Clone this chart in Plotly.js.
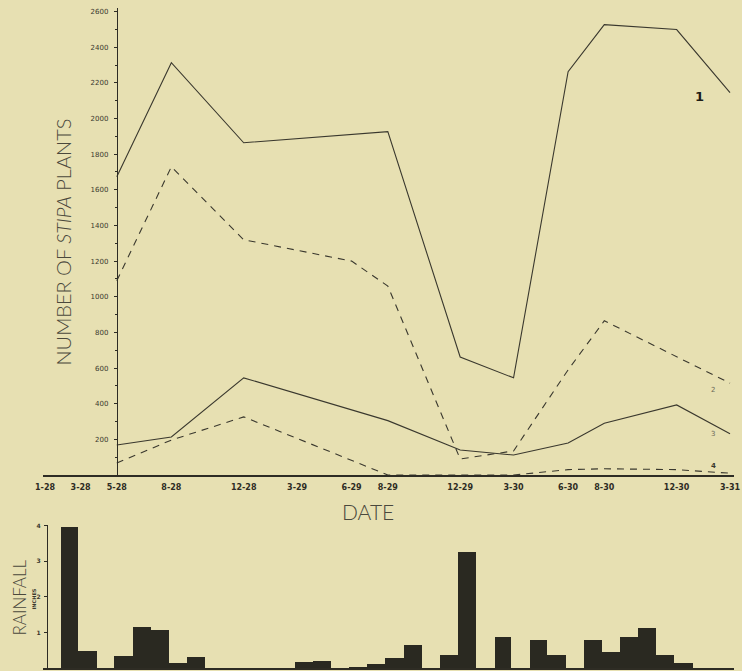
<!DOCTYPE html>
<html>
<head>
<meta charset="utf-8">
<script src="https://cdn.plot.ly/plotly-3.0.1.min.js"></script>
<style>
  html, body { margin: 0; padding: 0; background: #e7e0b2; }
  #chart { width: 742px; height: 671px; }
</style>
</head>
<body>
<div id="chart"></div>
<script>
// ---- Data ----
const sampleDates = ['1928-05-01','1928-08-01','1928-12-01','1929-06-01','1929-08-01','1929-12-01','1930-03-01','1930-06-01','1930-08-01','1930-12-01','1931-03-01'];
const plants1 = [1673, 2313, 1864, null, 1926, 662, 545, 2263, 2527, 2499, 2145];
const plants2 = [1090, 1729, 1320, 1200, 1060, 90, 135, 590, 865, 665, 515];
const plants3 = [168, 213, 545, null, 305, 140, 112, 180, 290, 393, 232];
const plants4 = [67, 196, 326, null, 0, 0, 0, 30, 35, 30, 10];

const tickDates = ['1928-01-01','1928-03-01','1928-05-01','1928-08-01','1928-12-01','1929-03-01','1929-06-01','1929-08-01','1929-12-01','1930-03-01','1930-06-01','1930-08-01','1930-12-01','1931-03-01'];
const tickLabels = ['1-28','3-28','5-28','8-28','12-28','3-29','6-29','8-29','12-29','3-30','6-30','8-30','12-30','3-31'];

const plantTicks = [200,400,600,800,1000,1200,1400,1600,1800,2000,2200,2400,2600];

const rainMonths = ['1928-01','1928-02','1928-03','1928-04','1928-05','1928-06','1928-07','1928-08','1928-09','1928-10','1928-11','1928-12',
                    '1929-01','1929-02','1929-03','1929-04','1929-05','1929-06','1929-07','1929-08','1929-09','1929-10','1929-11','1929-12',
                    '1930-01','1930-02','1930-03','1930-04','1930-05','1930-06','1930-07','1930-08','1930-09','1930-10','1930-11','1930-12',
                    '1931-01','1931-02'];
const rainInches = [0, 3.95, 0.48, 0, 0.34, 1.15, 1.06, 0.14, 0.31, 0, 0, 0,
                    0, 0, 0.17, 0.20, 0, 0.04, 0.11, 0.28, 0.64, 0, 0.36, 3.25,
                    0, 0.88, 0, 0.80, 0.36, 0, 0.78, 0.45, 0.87, 1.12, 0.36, 0.14,
                    0, 0];
const rainTicks = [1, 2, 3, 4];

// ---- Build bar geometry from the month strings ----
const rainX = rainMonths.map(m => m + '-01');
const rainW = rainMonths.map(m => {
  const y = +m.slice(0, 4), mo = +m.slice(5, 7);
  return Date.UTC(y, mo, 1) - Date.UTC(y, mo - 1, 1);
});

// ---- Layout helpers (pixel -> paper) ----
const W = 742, H = 671, ML = 43, MR = 8, MT = 8, MB = 2;
const PW = W - ML - MR, PH = H - MT - MB;
const px = x => (x - ML) / PW;
const py = y => (H - MB - y) / PH;

const ink = '#3a382e';
const lineStyle = { color: ink, width: 1.1 };

const traces = [
  { x: sampleDates, y: plants1, type: 'scatter', mode: 'lines', connectgaps: true,
    line: Object.assign({}, lineStyle), xaxis: 'x', yaxis: 'y', hoverinfo: 'skip' },
  { x: sampleDates, y: plants2, type: 'scatter', mode: 'lines', connectgaps: true,
    line: { color: ink, width: 1.1, dash: '7px,6px' }, xaxis: 'x', yaxis: 'y', hoverinfo: 'skip' },
  { x: sampleDates, y: plants3, type: 'scatter', mode: 'lines', connectgaps: true,
    line: Object.assign({}, lineStyle), xaxis: 'x', yaxis: 'y', hoverinfo: 'skip' },
  { x: sampleDates, y: plants4, type: 'scatter', mode: 'lines', connectgaps: true,
    line: { color: ink, width: 1.1, dash: '7px,6px' }, xaxis: 'x', yaxis: 'y', hoverinfo: 'skip' },
  { x: rainX, y: rainInches, type: 'bar', width: rainW, offset: 0,
    marker: { color: '#2a2921', line: { width: 0 } }, xaxis: 'x2', yaxis: 'y2', hoverinfo: 'skip' }
];

const tickFont = { family: 'DejaVu Sans', size: 7, color: '#3a382e' };

const layout = {
  width: W, height: H,
  margin: { l: ML, r: MR, t: MT, b: MB, pad: 0 },
  paper_bgcolor: '#e7e0b2',
  plot_bgcolor: 'rgba(0,0,0,0)',
  showlegend: false,
  bargap: 0,
  xaxis: {
    type: 'date', domain: [0, 1], anchor: 'y',
    range: ['1927-12-28 14:00', '1931-03-07 17:00'],
    tickmode: 'array', tickvals: tickDates, ticktext: tickLabels,
    ticks: '', ticklabelstandoff: 4,
    tickfont: { family: 'DejaVu Sans', size: 8, color: '#2e2c24', weight: 'bold' },
    showgrid: false, zeroline: false,
    showline: true, linecolor: '#2e2c24', linewidth: 1.6
  },
  yaxis: {
    domain: [py(475), 1], range: [0, 2620],
    anchor: 'free', position: px(116.8),
    tickmode: 'array', tickvals: plantTicks,
    ticks: 'outside', ticklen: 3, tickcolor: '#2e2c24', tickwidth: 1,
    ticklabelstandoff: 4,
    minor: { tickmode: 'linear', tick0: 0, dtick: 100, ticks: 'outside', ticklen: 2, tickcolor: '#2e2c24' },
    tickfont: tickFont,
    showgrid: false, zeroline: false,
    showline: true, linecolor: '#2e2c24', linewidth: 1.6
  },
  xaxis2: {
    type: 'date', domain: [0, 1], anchor: 'y2',
    range: ['1928-01-01 14:00', '1931-03-11 17:00'],
    showticklabels: false, ticks: '',
    showgrid: false, zeroline: false,
    showline: true, linecolor: '#2e2c24', linewidth: 1.6
  },
  yaxis2: {
    domain: [py(668), py(525)], range: [0, 4.02],
    anchor: 'free', position: px(47),
    tickmode: 'array', tickvals: rainTicks,
    ticks: 'outside', ticklen: 3, tickcolor: '#2e2c24',
    ticklabelstandoff: 2,
    tickfont: { family: 'DejaVu Sans', size: 6, color: '#3a382e', weight: 'bold' },
    showgrid: false, zeroline: false,
    showline: true, linecolor: '#2e2c24', linewidth: 1.4
  },
  annotations: [
    { text: 'NUMBER OF <i>STIPA</i> PLANTS', xref: 'paper', yref: 'paper', x: px(62.5), y: py(242),
      textangle: -90, showarrow: false, xanchor: 'center', yanchor: 'middle',
      font: { family: 'Lato', size: 20, color: '#4a483c', weight: 300 } },
    { text: 'DATE', xref: 'paper', yref: 'paper', x: px(368), y: py(511),
      showarrow: false, xanchor: 'center', yanchor: 'middle',
      font: { family: 'Lato', size: 21, color: '#4a483c', weight: 300 } },
    { text: 'RAINFALL', xref: 'paper', yref: 'paper', x: px(18.5), y: py(598),
      textangle: -90, showarrow: false, xanchor: 'center', yanchor: 'middle',
      font: { family: 'Lato', size: 17, color: '#4a483c', weight: 300 } },
    { text: 'INCHES', xref: 'paper', yref: 'paper', x: px(33.5), y: py(599),
      textangle: -90, showarrow: false, xanchor: 'center', yanchor: 'middle',
      font: { family: 'DejaVu Sans', size: 5, color: '#3a382e', weight: 'bold' } },
    { text: '1', xref: 'paper', yref: 'paper', x: px(699), y: py(97),
      showarrow: false, xanchor: 'center', yanchor: 'middle',
      font: { family: 'DejaVu Sans', size: 13, color: '#1e1d16', weight: 'bold' } },
    { text: '2', xref: 'paper', yref: 'paper', x: px(713), y: py(390),
      showarrow: false, xanchor: 'center', yanchor: 'middle',
      font: { family: 'DejaVu Sans', size: 7, color: '#6a6858' } },
    { text: '3', xref: 'paper', yref: 'paper', x: px(713), y: py(434),
      showarrow: false, xanchor: 'center', yanchor: 'middle',
      font: { family: 'DejaVu Sans', size: 7, color: '#6a6858' } },
    { text: '4', xref: 'paper', yref: 'paper', x: px(713), y: py(466),
      showarrow: false, xanchor: 'center', yanchor: 'middle',
      font: { family: 'DejaVu Sans', size: 7, color: '#3a382e', weight: 'bold' } }
  ]
};

Plotly.newPlot('chart', traces, layout, { staticPlot: true, displayModeBar: false });
</script>
</body>
</html>
